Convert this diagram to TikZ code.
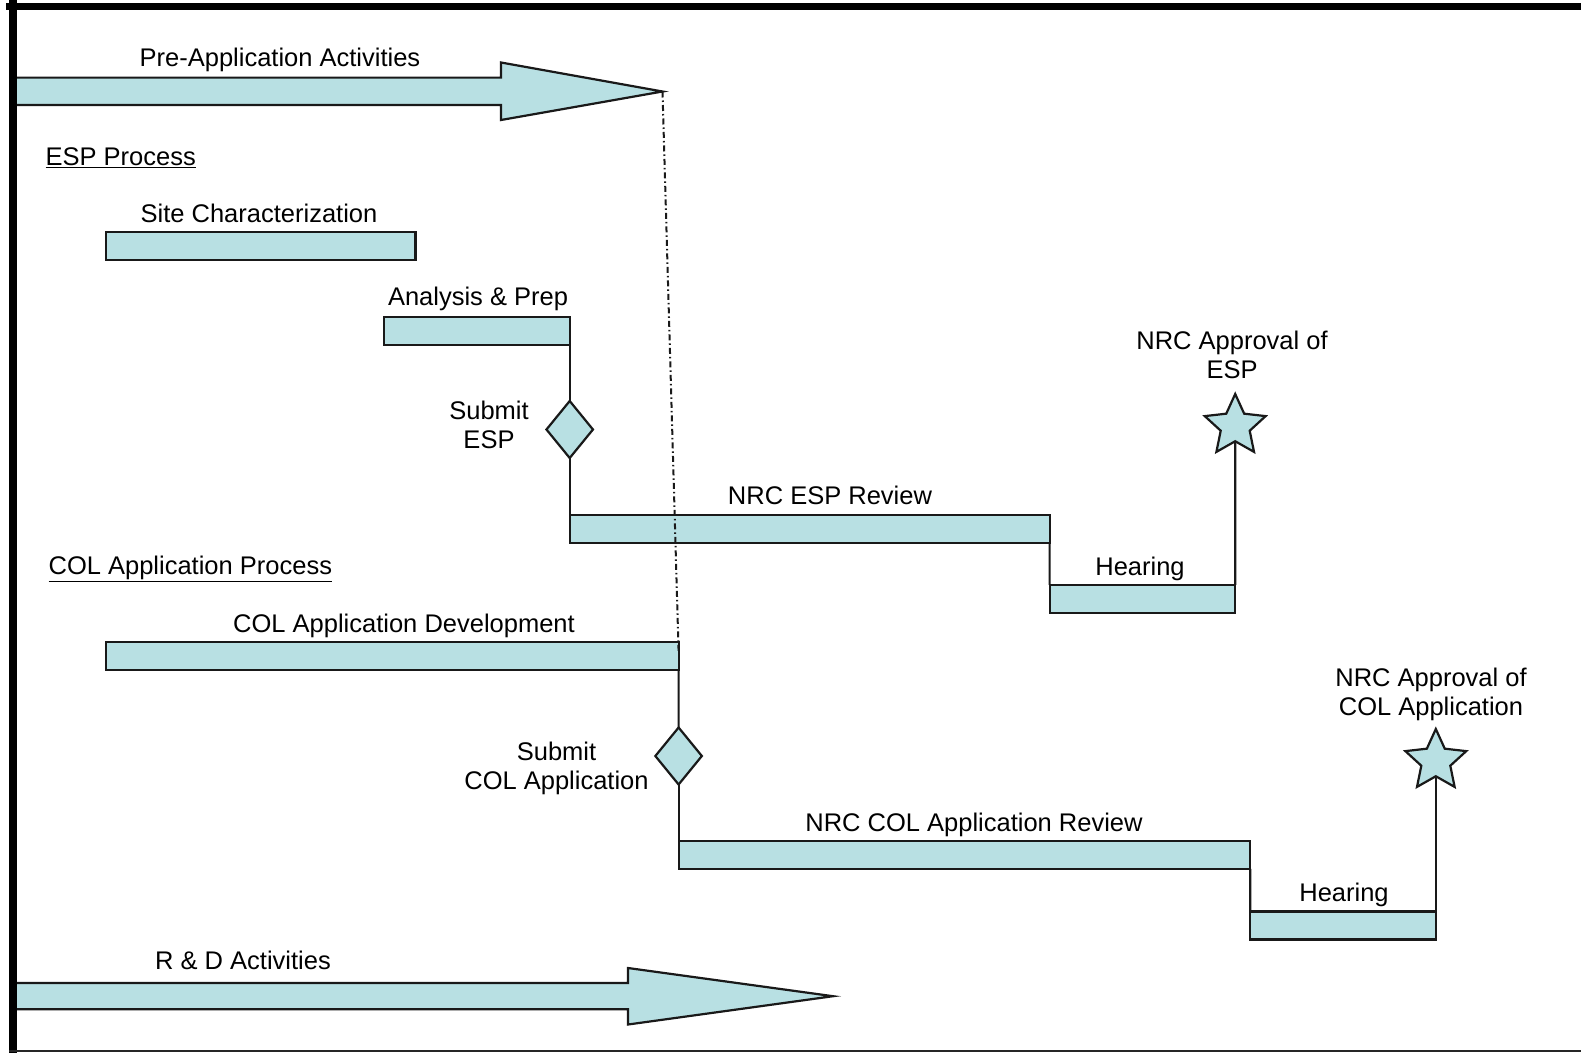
\documentclass[tikz,border=0pt]{standalone}
\usepackage{fontspec}
\setmainfont{Liberation Sans}
\usetikzlibrary{shapes.geometric}
\definecolor{barfill}{RGB}{184,224,227}
\definecolor{edge}{RGB}{25,25,25}
\begin{document}
\begin{tikzpicture}[x=1pt,y=-1pt,
  lbl/.style={font=\fontsize{25.5}{29}\selectfont, inner sep=0pt, anchor=base, align=center},
  lbll/.style={font=\fontsize{25.5}{29}\selectfont, inner sep=0pt, anchor=base west},
  bar/.style={rectangle, draw=edge, line width=2.2pt, fill=barfill, inner sep=0pt, outer sep=0pt, minimum height=28pt, anchor=north west},
  conn/.style={draw=edge, line width=2.2pt},
  milestone/.style={diamond, draw=edge, fill=barfill, line width=2.2pt, minimum width=46.5pt, minimum height=57pt, inner sep=0pt, outer sep=0pt},
  goal/.style={star, star points=5, star point ratio=2.1, draw=edge, fill=barfill, line width=2.2pt, minimum size=64pt, inner sep=0pt, outer sep=0pt},
  bigarrow/.style={draw=edge, fill=barfill, line width=2.2pt, line join=miter},
  dashdot/.style={draw=edge, line width=2pt, dash pattern=on 6pt off 3pt on 1.5pt off 3pt},
  frame/.style={draw=black, line cap=rect}
]
\useasboundingbox (0,0) rectangle (1581,1052);
\fill[white] (0,0) rectangle (1581,1052);

% Pre-application arrow
\draw[bigarrow] (12,77.6) -- (501,77.6) -- (501,62.5) -- (662.5,91.5) coordinate (pretip)
  -- (501,120) -- (501,104.9) -- (12,104.9);
\node[lbl] (prelbl) at (280,66.5) {Pre-Application Activities};

% R & D arrow
\draw[bigarrow] (12,983) -- (628,983) -- (628,968) -- (833,996.2) coordinate (rdtip)
  -- (628,1024.5) -- (628,1009.3) -- (12,1009.3);
\node[lbl] (rdlbl) at (243,969) {R \& D Activities};

% ESP process
\node[lbll] (esphead) at (45.4,165.5) {\underline{ESP Process}};

\node[bar, minimum width=309.5pt] (site) at (105.9,231.9) {};
\node[lbl] (sitelbl) at (259,222) {Site Characterization};

\node[bar, minimum width=185.5pt] (anal) at (384.2,316.6) {};
\node[lbl] (anallbl) at (478,305.5) {Analysis \& Prep};

\node[milestone] (subesp) at (569.7,429.5) {};
\node[lbl] (subesplbl) at (489,448.5) {Submit\\ESP};

\node[bar, minimum width=479.9pt] (espreview) at (569.7,515.2) {};
\node[lbl] (espreviewlbl) at (830,504) {NRC ESP Review};

\node[bar, minimum width=185.6pt] (hear1) at (1049.6,584.8) {};
\node[lbl] (hear1lbl) at (1140,575.5) {Hearing};

\node[goal] (star1) at (1235.2,426) {};
\node[lbl] (star1lbl) at (1232,378) {NRC Approval of\\ESP};

\draw[conn] (anal.south east) -- (subesp.north);
\draw[conn] (subesp.south) -- (espreview.north west);
\draw[conn] (espreview.south east) -- (hear1.north west);
\draw[conn] (hear1.north east) -- (star1.south);

% COL process
\node[lbll] (colhead) at (48.4,574) {\underline{COL Application Process}};

\node[bar, minimum width=572.7pt] (coldev) at (105.9,642.3) {};
\node[lbl] (coldevlbl) at (404,632) {COL Application Development};

\node[milestone] (subcol) at (678.6,756) {};
\node[lbl] (subcollbl) at (556.5,789.5) {Submit\\COL Application};

\node[bar, minimum width=571.7pt] (colreview) at (678.6,840.9) {};
\node[lbl] (colreviewlbl) at (974,831) {NRC COL Application Review};

\node[bar, minimum width=185.5pt] (hear2) at (1250.3,911.5) {};
\node[lbl] (hear2lbl) at (1344,901.5) {Hearing};

\node[goal] (star2) at (1435.8,761) {};
\node[lbl] (star2lbl) at (1431,715) {NRC Approval of\\COL Application};

\draw[conn] (coldev.south east) -- (subcol.north);
\draw[conn] (subcol.south) -- (colreview.north west);
\draw[conn] (colreview.south east) -- (hear2.north west);
\draw[conn] (hear2.north east) -- (star2.south);

% dash-dot link
\draw[dashdot] (pretip) -- ([yshift=-10pt]coldev.north east);

% frame
\draw[frame, line width=6.7pt] (9,6.7) -- (1581,6.7);
\draw[frame, line width=7.5pt] (12.8,3.3) -- (12.8,1052);
\draw[draw=black!85, line width=2.5pt] (9,1051) -- (1581,1051);
\end{tikzpicture}
\end{document}
